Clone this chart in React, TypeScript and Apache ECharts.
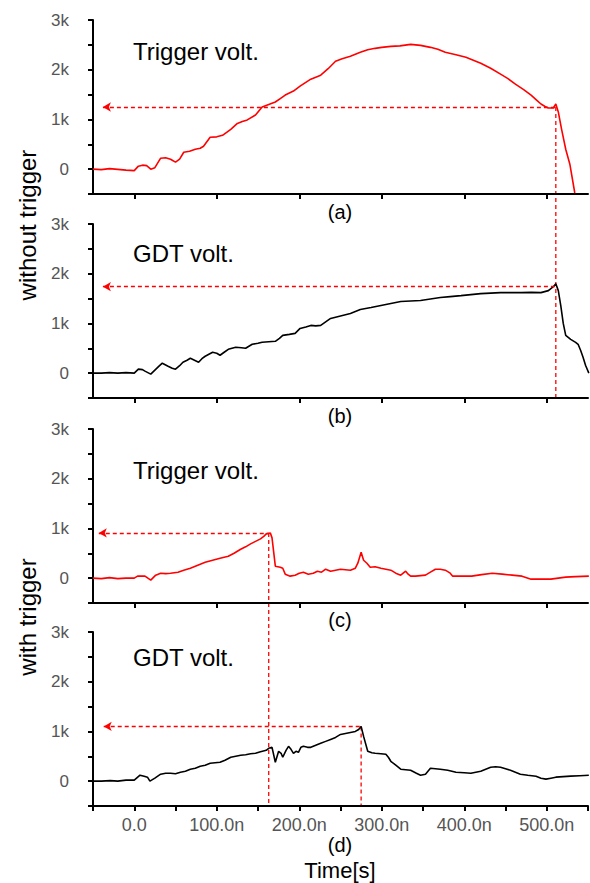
import React, { useEffect, useRef } from "react";
import * as echarts from "echarts";

// ---------- data (time in ns, voltage in V) ----------
const trigWithout: number[][] = [
  [-50, 0], [-40, -10], [-30, 10], [-20, -5], [-10, -20], [0, -30], [5, 60], [10, 80], [15, 70], [20, 0],
  [25, 30], [32, 220], [38, 230], [44, 200], [50, 140], [55, 200], [60, 340], [67, 360], [74, 400], [80, 420],
  [84, 460], [92, 640], [100, 650], [107, 680], [117, 800], [125, 920], [131, 960], [137, 990], [147, 1090],
  [155, 1250], [163, 1300], [171, 1350], [177, 1420], [183, 1490], [193, 1570], [201, 1670], [214, 1810],
  [226, 1890], [235, 2020], [244, 2170], [252, 2220], [262, 2270], [274, 2350], [283, 2400], [292, 2430],
  [300, 2450], [311, 2470], [322, 2480], [335, 2510], [347, 2490], [359, 2450], [368, 2410], [377, 2350],
  [390, 2300], [402, 2250], [411, 2190], [420, 2130], [432, 2030], [444, 1910], [453, 1820], [462, 1710],
  [472, 1600], [481, 1490], [487, 1400], [493, 1310], [498, 1260], [502, 1230], [508, 1230], [511, 1310],
  [514, 1150], [518, 800], [523, 400], [528, 100], [534, -480],
];

const gdtWithout: number[][] = [
  [-50, 0], [-40, 0], [-30, 10], [-20, 0], [-10, 10], [0, 0], [5, 80], [10, 70], [13, 40], [20, -20],
  [25, 60], [30, 140], [34, 200], [41, 140], [46, 100], [50, 80], [55, 150], [59, 220], [64, 260], [68, 300],
  [73, 260], [78, 220], [82, 290], [86, 340], [95, 420], [100, 400], [104, 360], [109, 420], [114, 480],
  [123, 520], [130, 510], [135, 500], [143, 580], [150, 600], [155, 620], [163, 630], [171, 640], [176, 700],
  [180, 760], [188, 780], [195, 800], [201, 900], [208, 930], [214, 960], [220, 950], [226, 960], [232, 1030],
  [238, 1100], [250, 1150], [262, 1200], [268, 1240], [274, 1280], [287, 1320], [299, 1360], [311, 1400],
  [323, 1440], [335, 1450], [347, 1460], [359, 1490], [371, 1520], [383, 1540], [396, 1560], [408, 1580],
  [420, 1600], [432, 1610], [444, 1620], [456, 1620], [469, 1620], [481, 1625], [493, 1620], [502, 1660],
  [508, 1740], [511, 1800], [514, 1660], [517, 1360], [520, 1000], [523, 760], [529, 680], [535, 620],
  [538, 580], [541, 460], [544, 320], [547, 160], [551, 0],
];

const trigWith: number[][] = [
  [-50, 0], [-40, -10], [-30, 10], [-20, -10], [-10, 0], [0, 0], [4, 40], [13, 40], [20, -40], [26, 60],
  [32, 100], [38, 90], [44, 100], [53, 120], [60, 160], [68, 200], [77, 260], [86, 320], [95, 360],
  [104, 400], [114, 440], [121, 500], [129, 580], [135, 630], [141, 690], [147, 740], [153, 790], [157, 840],
  [160, 890], [165, 910], [167, 810], [171, 240], [177, 220], [180, 200], [183, 80], [189, 40], [195, 60],
  [200, 100], [205, 120], [211, 80], [217, 100], [222, 140], [227, 120], [232, 180], [238, 140], [244, 160],
  [250, 180], [256, 170], [262, 160], [268, 200], [271, 300], [275, 520], [278, 360], [282, 300], [286, 220],
  [292, 230], [299, 200], [305, 180], [311, 160], [317, 100], [323, 60], [326, 100], [329, 140], [332, 80],
  [335, 40], [341, 40], [347, 50], [353, 60], [359, 120], [365, 180], [371, 180], [377, 160], [383, 100],
  [386, 40], [395, 40], [409, 40], [421, 70], [434, 100], [446, 80], [458, 60], [470, 40], [481, -20],
  [493, -20], [505, -20], [514, 0], [523, 20], [535, 30], [551, 40],
];

const gdtWith: number[][] = [
  [-50, 0], [-40, 0], [-29, 10], [-20, 0], [-10, 20], [0, 20], [7, 120], [12, 100], [16, 80], [19, 0],
  [25, 60], [32, 140], [38, 160], [44, 160], [50, 150], [56, 180], [62, 200], [68, 240], [74, 260], [80, 300],
  [86, 320], [92, 360], [98, 370], [104, 380], [110, 420], [117, 480], [123, 500], [129, 520], [135, 530],
  [141, 550], [147, 560], [153, 590], [160, 620], [163, 660], [167, 680], [171, 380], [175, 600], [178, 560],
  [180, 480], [184, 620], [187, 700], [190, 640], [193, 560], [196, 600], [199, 580], [202, 680], [205, 700],
  [210, 680], [214, 680], [220, 720], [226, 760], [232, 800], [238, 840], [244, 880], [250, 940], [256, 960],
  [262, 980], [268, 1000], [272, 1040], [275, 1100], [278, 900], [283, 600], [288, 570], [292, 560],
  [299, 550], [305, 540], [308, 480], [311, 400], [317, 320], [323, 240], [329, 230], [335, 220], [342, 160],
  [347, 120], [353, 140], [359, 260], [365, 250], [371, 240], [380, 220], [390, 180], [400, 170], [408, 160],
  [414, 180], [420, 200], [426, 240], [432, 280], [438, 290], [444, 280], [450, 250], [456, 220], [462, 180],
  [468, 140], [477, 120], [487, 100], [493, 60], [499, 40], [505, 60], [511, 80], [520, 90], [529, 100],
  [540, 110], [551, 120],
];

const panelSeries = [trigWithout, gdtWithout, trigWith, gdtWith];
const panelColors = ["#ff0000", "#000000", "#ff0000", "#000000"];
const panelTitles = ["Trigger volt.", "GDT volt.", "Trigger volt.", "GDT volt."];
const panelLetters = ["(a)", "(b)", "(c)", "(d)"];
const groupNames = ["without trigger", "with trigger"];

// horizontal guide lines: [startTime, endTime, level]
const hGuides: number[][] = [
  [-38, 511, 1250],
  [-38, 511, 1740],
  [-43, 163, 910],
  [-37, 275, 1100],
];
// vertical guide lines crossing panels
const vGuides = [
  { t: 511, fromGrid: 0, fromV: 1250, toGrid: 1, toV: -500 },
  { t: 163, fromGrid: 2, fromV: 910, toGrid: 3, toV: -500 },
  { t: 275, fromGrid: 3, fromV: 1100, toGrid: 3, toV: -500 },
];

const X_MIN = -50;
const X_MAX = 550;
const Y_MIN = -500;
const Y_MAX = 3000;
const xMajorTicks = [0, 100, 200, 300, 400, 500];
const xAllTicks = [-50, 0, 50, 100, 150, 200, 250, 300, 350, 400, 450, 500, 550];
const xTickLabels: Record<number, string> = {
  0: "0.0", 100: "100.0n", 200: "200.0n", 300: "300.0n", 400: "400.0n", 500: "500.0n",
};
const yTicks = [-500, 0, 500, 1000, 1500, 2000, 2500, 3000];
const yLabelValues = [0, 1000, 2000, 3000];
const yTickLabels: Record<number, string> = { 0: "0", 1000: "1k", 2000: "2k", 3000: "3k" };

const FONT = "'Liberation Sans', Arial, sans-serif";
const GRID_TOPS = [20, 224, 429, 632];
const GRID_H = 174;

export default function App() {
  const ref = useRef<HTMLDivElement>(null);
  useEffect(() => {
    if (!ref.current) return;
    const chart = echarts.init(ref.current, undefined, { renderer: "svg" });

    const grids = GRID_TOPS.map((top) => ({ left: 93, width: 495, top, height: GRID_H }));
    const xAxes = GRID_TOPS.map((_, i) => {
      const bottom = i === 3;
      return {
        type: "value",
        gridIndex: i,
        min: X_MIN,
        max: X_MAX,
        axisLine: { onZero: false, lineStyle: { color: "#000", width: 2 } },
        splitLine: { show: false },
        axisTick: {
          show: true,
          length: 5,
          customValues: bottom ? xAllTicks : xMajorTicks,
          lineStyle: { color: "#000", width: 2 },
        },
        axisLabel: {
          show: bottom,
          customValues: xMajorTicks,
          formatter: (v: number) => xTickLabels[v] ?? "",
          color: "#555",
          fontSize: 18,
          fontFamily: FONT,
          margin: 10,
        },
      };
    });
    const yAxes = GRID_TOPS.map((_, i) => ({
      type: "value",
      gridIndex: i,
      min: Y_MIN,
      max: Y_MAX,
      axisLine: { show: true, onZero: false, lineStyle: { color: "#000", width: 2 } },
      splitLine: { show: false },
      axisTick: { show: true, length: 5, customValues: yTicks, lineStyle: { color: "#000", width: 2 } },
      axisLabel: {
        customValues: yLabelValues,
        formatter: (v: number) => yTickLabels[v] ?? "",
        color: "#555",
        fontSize: 17,
        fontFamily: FONT,
        margin: 24,
      },
    }));

    const series = panelSeries.map((data, i) => ({
      type: "line",
      xAxisIndex: i,
      yAxisIndex: i,
      data,
      showSymbol: false,
      symbol: "none",
      lineStyle: { color: panelColors[i], width: 1.6 },
      itemStyle: { color: panelColors[i] },
      silent: true,
      markLine: {
        silent: true,
        symbol: ["arrow", "none"],
        symbolSize: [7, 8],
        label: { show: false },
        lineStyle: { color: "#ff0000", type: [4, 3], width: 1.3 },
        emphasis: { disabled: true },
        data: [[{ coord: [hGuides[i][0], hGuides[i][2]] }, { coord: [hGuides[i][1], hGuides[i][2]] }]],
      },
    }));

    const textStyle = (extra: any) => ({ fontFamily: FONT, fill: "#000", ...extra });
    const graphic: any[] = [];
    const titleY = [51, 253, 470, 657];
    const letterY = [212, 416, 620, 845];
    panelTitles.forEach((t, i) => {
      graphic.push({
        type: "text", id: "title" + i, x: 133, y: titleY[i],
        style: textStyle({ text: t, fontSize: 24, textAlign: "left", textVerticalAlign: "middle" }),
      });
      graphic.push({
        type: "text", id: "letter" + i, x: 340, y: letterY[i],
        style: textStyle({ text: panelLetters[i], fontSize: 20, textAlign: "center", textVerticalAlign: "middle" }),
      });
    });
    graphic.push({
      type: "text", id: "time", x: 340, y: 870,
      style: textStyle({ text: "Time[s]", fontSize: 22, textAlign: "center", textVerticalAlign: "middle" }),
    });
    const groupY = [225, 617];
    groupNames.forEach((g, i) => {
      graphic.push({
        type: "text", id: "group" + i, x: 27, y: groupY[i], rotation: Math.PI / 2,
        style: textStyle({ text: g, fontSize: 24, textAlign: "center", textVerticalAlign: "middle" }),
      });
    });

    chart.setOption({
      animation: false,
      grid: grids,
      xAxis: xAxes,
      yAxis: yAxes,
      series,
      graphic,
    });

    const lines = vGuides.map((g, k) => {
      const p1 = chart.convertToPixel({ gridIndex: g.fromGrid }, [g.t, g.fromV]) as number[];
      const p2 = chart.convertToPixel({ gridIndex: g.toGrid }, [g.t, g.toV]) as number[];
      return {
        type: "line",
        id: "vguide" + k,
        silent: true,
        shape: { x1: p1[0], y1: p1[1], x2: p2[0], y2: p2[1] },
        style: { stroke: "#ff0000", lineWidth: 1.3, lineDash: [4, 3] },
      };
    });
    chart.setOption({ graphic: [...graphic, ...lines] });

    return () => chart.dispose();
  }, []);
  return (
    <div
      ref={ref}
      style={{ position: "absolute", left: 0, top: 0, width: 590, height: 883, background: "#fff" }}
    />
  );
}
